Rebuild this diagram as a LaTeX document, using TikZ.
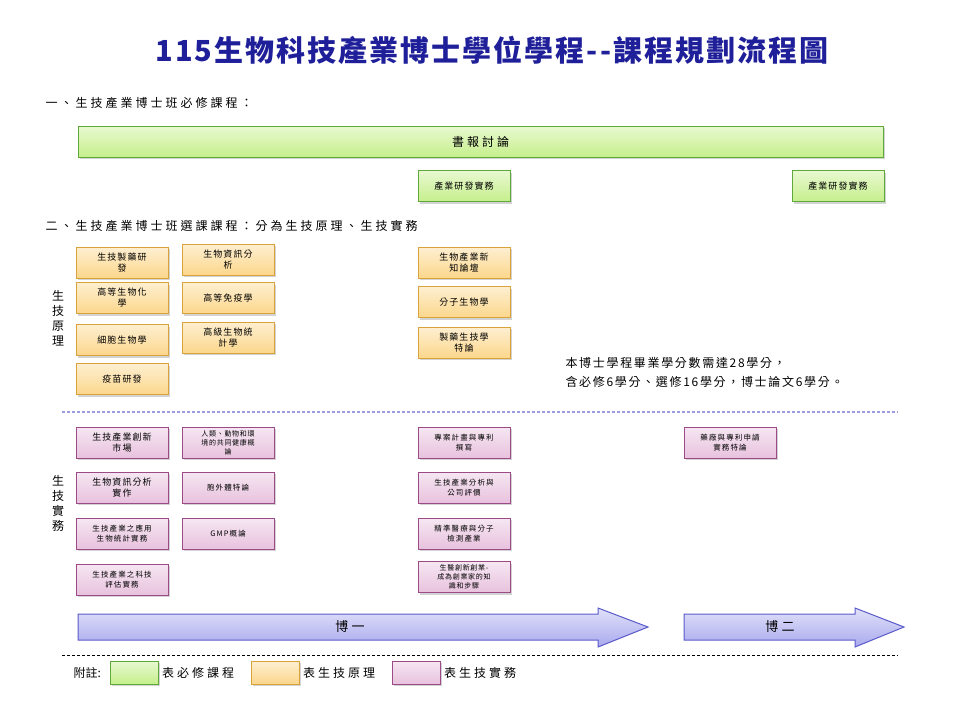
\documentclass[tikz,border=0pt]{standalone}
\usepackage{fontspec}
\setmainfont{Noto Sans CJK TC}
\usetikzlibrary{shadows}
\definecolor{titleblue}{HTML}{1F1F9A}
\definecolor{grnfill}{HTML}{C6EF8C}
\definecolor{grnline}{HTML}{5FA83A}
\definecolor{orgfill}{HTML}{FCD78C}
\definecolor{orgline}{HTML}{D9A23A}
\definecolor{pnkfill}{HTML}{E8C2DE}
\definecolor{pnkline}{HTML}{9C4B86}
\definecolor{arrfill}{HTML}{A9A9EE}
\definecolor{arrline}{HTML}{5A5ACB}
\newcommand{\spaced}[1]{\fontsize{#1}{#1}\selectfont\addfontfeatures{LetterSpace=25}}
\tikzset{
  course/.style={draw, line width=1pt, minimum width=92, minimum height=31,
    inner sep=1pt, align=center, font=\fontsize{9}{11}\selectfont\addfontfeatures{LetterSpace=12},
    drop shadow={shadow xshift=2pt, shadow yshift=-2pt, opacity=.35}},
  req/.style={course, draw=grnline, top color=grnfill!40, bottom color=grnfill},
  prin/.style={course, draw=orgline, top color=orgfill!40, bottom color=orgfill},
  prac/.style={course, draw=pnkline, top color=pnkfill!40, bottom color=pnkfill},
  small/.style={font=\fontsize{7.5}{10}\selectfont\addfontfeatures{LetterSpace=15}},
  tiny/.style={font=\fontsize{7}{9}\selectfont\addfontfeatures{LetterSpace=10}},
  heading/.style={anchor=west, font=\spaced{12}},
  side/.style={align=center, font=\fontsize{12}{15}\selectfont},
  year/.style={draw=arrline, line width=1pt, top color=arrfill!35, bottom color=arrfill}
}
\begin{document}
\begin{tikzpicture}[x=1pt, y=-1pt]
  \useasboundingbox (0,0) rectangle (960,720);
  \node[font=\fontsize{29}{32}\selectfont\bfseries\addfontfeatures{LetterSpace=7}, text=titleblue] (title) at (492,50) {115生物科技產業博士學位學程{-}{-}課程規劃流程圖};

  % required courses
  \node[heading] (req head) at (42,103) {一、生技產業博士班必修課程：};
  \node[req, minimum width=805, minimum height=31, font=\spaced{12}] (seminar) at (480.5,141.5) {書報討論};
  \node[req] (rd1) at (464,186) {產業研發實務};
  \node[req] (rd2) at (838,186) {產業研發實務};

  % principles
  \node[heading] (elec head) at (42,226) {二、生技產業博士班選課課程：分為生技原理、生技實務};
  \node[side] (prin side) at (58,318) {生\\技\\原\\理};
  \node[prin] (p11) at (122,262.5) {生技製藥研\\發};
  \node[prin] (p12) at (122,298) {高等生物化\\學};
  \node[prin] (p13) at (122,340) {細胞生物學};
  \node[prin] (p14) at (122,379) {疫苗研發};
  \node[prin] (p21) at (228,259.5) {生物資訊分\\析};
  \node[prin] (p22) at (228,298) {高等免疫學};
  \node[prin] (p23) at (228,337.5) {高級生物統\\計學};
  \node[prin] (p31) at (464,262.5) {生物產業新\\知論壇};
  \node[prin] (p32) at (464,302) {分子生物學};
  \node[prin] (p33) at (464,342.5) {製藥生技學\\特論};
  \node[anchor=west, align=left, font=\fontsize{12}{19}\selectfont\addfontfeatures{LetterSpace=14}] (note) at (562,372) {本博士學程畢業學分數需達28學分，\\含必修6學分、選修16學分，博士論文6學分。};

  \draw[arrline!60, line width=2.5pt, dash pattern=on 2.5pt off 2.5pt] (62,412) -- (898,412);

  % practice
  \node[side] (prac side) at (58,503) {生\\技\\實\\務};
  \node[prac] (q11) at (122,442.5) {生技產業創新\\市場};
  \node[prac] (q12) at (122,487.5) {生物資訊分析\\實作};
  \node[prac, small] (q13) at (122,533.5) {生技產業之應用\\生物統計實務};
  \node[prac, small] (q14) at (122,579.5) {生技產業之科技\\評估實務};
  \node[prac, tiny] (q21) at (228,442.5) {人類、動物和環\\境的共同健康概\\論};
  \node[prac, small] (q22) at (228,487.5) {胞外體特論};
  \node[prac, small] (q23) at (228,533.5) {GMP概論};
  \node[prac, small] (q31) at (464,442.5) {專案計畫與專利\\撰寫};
  \node[prac, small] (q32) at (464,487.5) {生技產業分析與\\公司評價};
  \node[prac, small] (q33) at (464,533.5) {精準醫療與分子\\檢測產業};
  \node[prac, tiny] (q34) at (464,577) {生醫創新創業-\\成為創業家的知\\識和步驟};
  \node[prac, small] (q41) at (730,442.5) {藥廠與專利申請\\實務特論};

  % years
  \path[year] (78,614) -- (598,614) -- (598,608) -- (648,627) -- (598,647) -- (598,640) -- (78,640) -- cycle;
  \node[font=\spaced{13}] (y1) at (350,627) {博一};
  \path[year] (684,614) -- (855,614) -- (855,608) -- (904,627) -- (855,647) -- (855,640) -- (684,640) -- cycle;
  \node[font=\spaced{13}] (y2) at (780,627) {博二};
  \draw[dash pattern=on 3pt off 2pt] (62,655) -- (898,655);

  % legend
  \node[anchor=west, font=\fontsize{12}{14}\selectfont] (leg) at (70,673) {附註:};
  \node[req, minimum width=48, minimum height=23] (lg) at (134,672.5) {};
  \node[heading] (lgt) at (lg.east) {表必修課程};
  \node[prin, minimum width=48, minimum height=23] (lo) at (275,672.5) {};
  \node[heading] (lot) at (lo.east) {表生技原理};
  \node[prac, minimum width=48, minimum height=23] (lp) at (416,672.5) {};
  \node[heading] (lpt) at (lp.east) {表生技實務};
\end{tikzpicture}
\end{document}
